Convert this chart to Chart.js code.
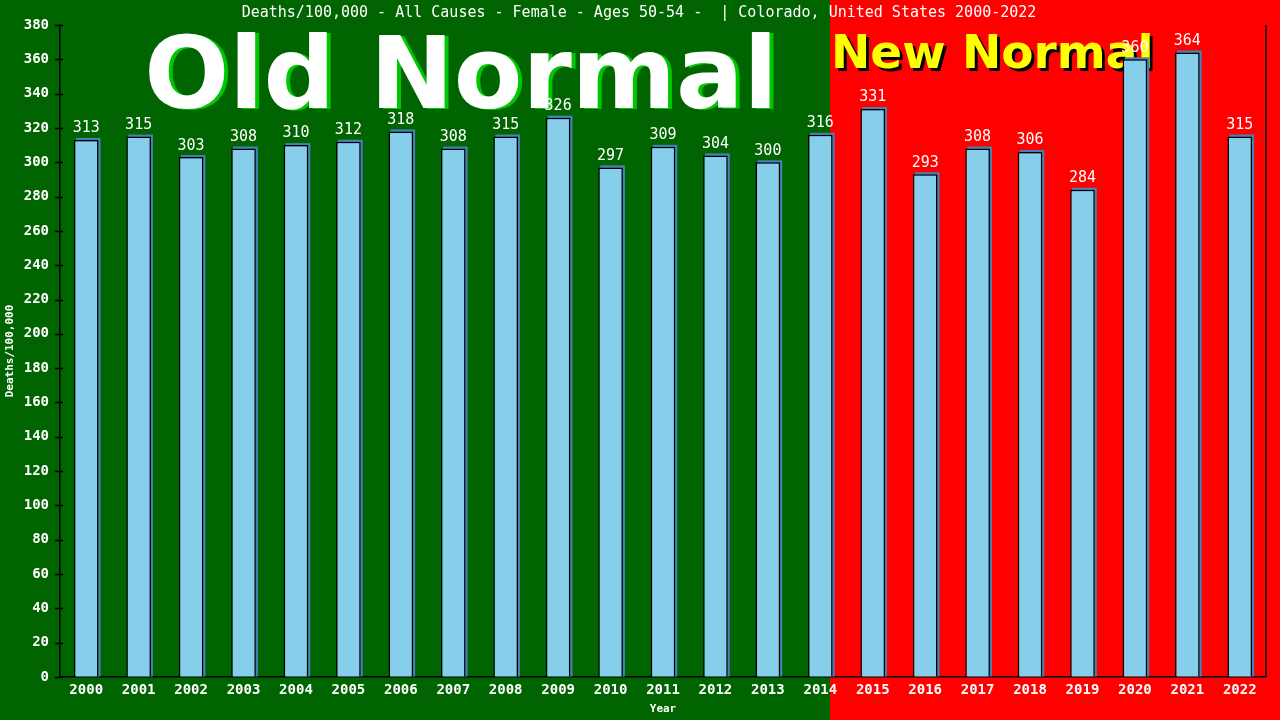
<!DOCTYPE html>
<html>
<head>
<meta charset="utf-8">
<script src="https://cdn.jsdelivr.net/npm/chart.js@4.4.1/dist/chart.umd.min.js"></script>
<style>
html,body{margin:0;padding:0;background:#006400;}
#wrap{width:1280px;height:720px;position:relative;}
</style>
</head>
<body>
<div id="wrap"><canvas id="c" width="1280" height="720"></canvas></div>
<script>
const years = ['2000','2001','2002','2003','2004','2005','2006','2007','2008','2009','2010','2011','2012','2013','2014','2015','2016','2017','2018','2019','2020','2021','2022'];
const deathsPer100k = [313,315,303,308,310,312,318,308,315,326,297,309,304,300,316,331,293,308,306,284,360,364,315];
const yTicks = {min:0, max:380, step:20};
const chartTitle = 'Deaths/100,000 - All Causes - Female - Ages 50-54 -  | Colorado, United States 2000-2022';
const yTitle = 'Deaths/100,000';
const xTitle = 'Year';
const oldLabel = 'Old Normal';
const newLabel = 'New Normal';
const newNormalStartIndex = 14;

const MONO = '"DejaVu Sans Mono", monospace';
const SANSB = '"DejaVu Sans", sans-serif';

function boundaryX(chart){
  const x = chart.scales.x;
  const a = x.getPixelForValue(newNormalStartIndex);
  const b = x.getPixelForValue(newNormalStartIndex+1);
  return Math.round(a + (b-a)*0.19);
}

const decor = {
  id:'decor',
  beforeDraw(chart){
    const ctx = chart.ctx, W = chart.width, H = chart.height;
    const bx = boundaryX(chart);
    ctx.save();
    ctx.fillStyle = '#006400';
    ctx.fillRect(0,0,W,H);
    ctx.fillStyle = '#ff0000';
    ctx.fillRect(bx,0,W-bx,H);
    // title
    ctx.fillStyle = '#ffffff';
    ctx.font = '15px ' + MONO;
    ctx.textAlign = 'center';
    ctx.textBaseline = 'middle';
    ctx.fillText(chartTitle, 639, 13);
    ctx.restore();
  },
  beforeDatasetsDraw(chart){
    const ctx = chart.ctx;
    const bx = boundaryX(chart);
    const ca = chart.chartArea;
    ctx.save();
    // Old Normal
    ctx.font = 'bold 100px ' + SANSB;
    ctx.textAlign = 'center';
    ctx.textBaseline = 'alphabetic';
    const oc = (ca.left + bx)/2 + 16;
    ctx.fillStyle = '#00c800';
    ctx.fillText(oldLabel, oc+4, 109);
    ctx.fillStyle = '#ffffff';
    ctx.fillText(oldLabel, oc, 108);
    // New Normal
    ctx.font = 'bold 47px ' + SANSB;
    ctx.textAlign = 'left';
    ctx.fillStyle = '#000000';
    ctx.fillText(newLabel, bx+4, 71);
    ctx.fillStyle = '#ffff00';
    ctx.fillText(newLabel, bx+1, 68);
    // bar shadows
    const meta = chart.getDatasetMeta(0);
    ctx.fillStyle = '#4682b4';
    meta.data.forEach(el=>{
      const p = el.getProps(['x','y','base','width'], true);
      ctx.fillRect(p.x - p.width/2 + 2, p.y - 2, p.width, p.base - p.y + 2);
    });
    ctx.restore();
  },
  afterDatasetsDraw(chart){
    const ctx = chart.ctx;
    const meta = chart.getDatasetMeta(0);
    ctx.save();
    ctx.fillStyle = '#ffffff';
    ctx.font = '15px ' + MONO;
    ctx.textAlign = 'center';
    ctx.textBaseline = 'bottom';
    meta.data.forEach((el,i)=>{
      const p = el.getProps(['x','y'], true);
      ctx.fillText(String(deathsPer100k[i]), p.x, p.y - 4);
    });
    ctx.restore();
  },
  afterDraw(chart){
    const ctx = chart.ctx, ca = chart.chartArea, y = chart.scales.y;
    ctx.save();
    ctx.strokeStyle = '#000000';
    ctx.lineWidth = 1.5;
    ctx.beginPath();
    ctx.moveTo(ca.right, ca.top);
    ctx.lineTo(ca.right, ca.bottom);
    y.ticks.forEach(t=>{
      const py = Math.round(y.getPixelForValue(t.value)) + 0.5;
      ctx.moveTo(ca.left - 5, py);
      ctx.lineTo(ca.left + 3, py);
    });
    ctx.stroke();
    ctx.restore();
  }
};

new Chart(document.getElementById('c'), {
  type:'bar',
  data:{
    labels: years,
    datasets:[{
      data: deathsPer100k,
      backgroundColor:'#87ceeb',
      borderColor:'#000000',
      borderWidth:1.5,
      barPercentage:0.47,
      categoryPercentage:1.0
    }]
  },
  options:{
    responsive:false,
    devicePixelRatio:1,
    animation:false,
    layout:{padding:{top:25,right:14,left:0,bottom:0}},
    plugins:{legend:{display:false},title:{display:false},tooltip:{enabled:false}},
    scales:{
      x:{
        grid:{display:true,drawOnChartArea:false,drawTicks:false},
        border:{display:true,color:'#000000',width:1.5},
        ticks:{color:'#ffffff',font:{family:MONO,size:14,weight:'bold'},padding:5,maxRotation:0,autoSkip:false},
        title:{display:true,text:xTitle,color:'#ffffff',font:{family:MONO,size:11,weight:'bold'},padding:{top:0,bottom:4}},
        afterFit(s){s.height = 43;}
      },
      y:{
        min:yTicks.min,max:yTicks.max,
        grid:{display:true,drawOnChartArea:false,drawTicks:false},
        border:{display:true,color:'#000000',width:1.5},
        ticks:{stepSize:yTicks.step,color:'#ffffff',font:{family:MONO,size:14,weight:'bold'},padding:11},
        title:{display:true,text:yTitle,color:'#ffffff',font:{family:MONO,size:11,weight:'bold'},padding:{top:4,bottom:0}},
        afterFit(s){s.width = 60;}
      }
    }
  },
  plugins:[decor]
});
</script>
</body>
</html>
